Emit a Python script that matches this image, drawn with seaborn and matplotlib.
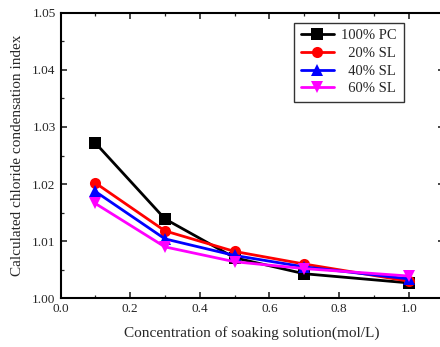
import numpy as np
import pandas as pd
import seaborn as sns
import matplotlib
matplotlib.use("Agg")
import matplotlib.pyplot as plt
from matplotlib.ticker import MultipleLocator

concentration = [0.1, 0.3, 0.5, 0.7, 1.0]
pc100 = [1.0272, 1.0139, 1.0071, 1.0043, 1.0027]
sl20 = [1.0202, 1.0118, 1.0082, 1.0060, 1.0030]
sl40 = [1.0187, 1.0104, 1.0075, 1.0055, 1.0034]
sl60 = [1.0166, 1.0090, 1.0064, 1.0052, 1.0039]
series_names = ["100% PC", "20% SL", "40% SL", "60% SL"]

df = pd.DataFrame({
    "x": concentration * 4,
    "y": pc100 + sl20 + sl40 + sl60,
    "series": np.repeat(series_names, len(concentration)),
})

sns.set_style("ticks")
plt.rcParams["font.family"] = ["Liberation Serif", "DejaVu Serif"]

W, H = 440, 347
fig = plt.figure(figsize=(4.4, 3.47), dpi=100)
top_px, bot_px, left_px = 12.7, 298.3, 60.5
ax = fig.add_axes([left_px / W, 1 - bot_px / H, 383 / W, (bot_px - top_px) / H])

palette = {"100% PC": "black", "20% SL": "red", "40% SL": "blue", "60% SL": "magenta"}
markers = {"100% PC": "s", "20% SL": "o", "40% SL": "^", "60% SL": "v"}
sns.lineplot(data=df, x="x", y="y", hue="series", style="series",
             palette=palette, markers=markers, dashes=False,
             markersize=8, linewidth=2, markeredgewidth=0, ax=ax)

ax.set_xlim(0, 1.1)
ax.set_ylim(1.00, 1.05)
ax.set_xticks([0.0, 0.2, 0.4, 0.6, 0.8, 1.0])
ax.set_xticklabels(["0.0", "0.2", "0.4", "0.6", "0.8", "1.0"])
ax.set_yticks([1.00, 1.01, 1.02, 1.03, 1.04, 1.05])
ax.set_yticklabels(["1.00", "1.01", "1.02", "1.03", "1.04", "1.05"])
ax.xaxis.set_minor_locator(MultipleLocator(0.1))
ax.yaxis.set_minor_locator(MultipleLocator(0.005))
ax.tick_params(which="both", direction="in", top=True, right=True, labelsize=9.5)
ax.tick_params(which="major", length=4.5, width=1.2)
ax.tick_params(which="minor", length=2.5, width=0.9)
for s in ax.spines.values():
    s.set_linewidth(1.5)
    s.set_color("black")

ax.set_xlabel("Concentration of soaking solution(mol/L)", fontsize=11, labelpad=8)
ax.set_ylabel("Calculated chloride condensation index", fontsize=11, labelpad=6)

handles, labels = ax.get_legend_handles_labels()
width = max(len(l) for l in labels)
labels = [" " * (2 * (width - len(l))) + l for l in labels]
leg = ax.legend(handles, labels, loc="upper left",
                bbox_to_anchor=(294 / W, 1 - 22.7 / H), bbox_transform=fig.transFigure,
                frameon=True, fancybox=False, edgecolor="black", fontsize=10.5,
                handlelength=2.3, borderpad=0.45, labelspacing=0.3,
                handletextpad=0.5, borderaxespad=0)
leg.get_frame().set_linewidth(1)

fig.savefig("out.png", dpi=100)
